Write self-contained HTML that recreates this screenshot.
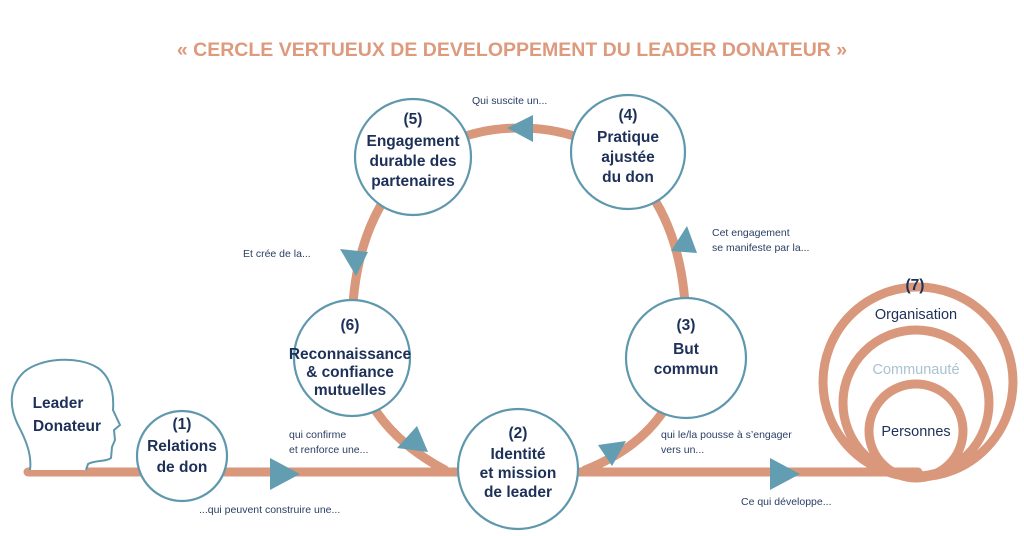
<!DOCTYPE html>
<html><head><meta charset="utf-8"><style>
html,body{margin:0;padding:0;background:#fff;}
svg{display:block;}
text{font-family:"Liberation Sans",sans-serif;}
.b{font-weight:bold;fill:#1d3057;text-anchor:middle;font-size:15.5px;}
.s{fill:#2a3e63;font-size:10.5px;}
</style></head><body>
<svg width="1024" height="536" viewBox="0 0 1024 536" xmlns="http://www.w3.org/2000/svg">
<rect width="1024" height="536" fill="#fff"/>
<text x="512" y="56" text-anchor="middle" font-size="19.5" font-weight="bold" fill="#dd9a7d">« CERCLE VERTUEUX DE DEVELOPPEMENT DU LEADER DONATEUR »</text>
<g fill="none" stroke="#d9977b" stroke-width="9" stroke-linecap="round">
<line x1="28" y1="472" x2="918" y2="472"/>
<path d="M445 470 Q352 420 352 330 C352 200 420 128 520 128 C620 128 686 200 686 330 Q686 430 585 470"/>
<circle cx="918" cy="382" r="95"/>
<circle cx="916" cy="403" r="73"/>
<circle cx="916" cy="431" r="47"/>
</g>
<!-- head -->
<path d="M30 470 C32 455 26 440 18 425 C8 405 10 385 24 372 C40 358 78 355 98 368 C112 378 114 395 113 410 L120 425 L114 430 L115 440 L112 447 L111 458 C106 462 95 460 88 464 L86 470" fill="#fff" stroke="#5f98ad" stroke-width="2"/>
<text class="b" x="58" y="408" font-size="17.5" text-anchor="middle">Leader</text>
<text class="b" x="67" y="431" font-size="17.5" text-anchor="middle">Donateur</text>
<g fill="#fff" stroke="#5f98ad" stroke-width="2.2">
<circle cx="182" cy="456" r="45"/>
<circle cx="518" cy="469" r="60"/>
<circle cx="686" cy="358" r="60"/>
<circle cx="628" cy="152" r="57"/>
<circle cx="413" cy="157" r="58"/>
<circle cx="352" cy="358" r="58"/>
</g>
<g fill="#639db2">
<polygon points="270,458 270,490 300,474"/>
<polygon points="770,458 770,490 800,474"/>
<polygon points="507,128 533,115 533,142"/>
<polygon points="671,251 687,226 697,253"/>
<polygon points="340,249 368,252 356,276"/>
<polygon points="397,448 417,426 428,452"/>
<polygon points="598,445 626,441 612,466"/>
</g>
<text class="b" x="182" y="429">(1)</text>
<text class="b" x="182" y="451">Relations</text>
<text class="b" x="182" y="472">de don</text>
<text class="b" x="518" y="438">(2)</text>
<text class="b" x="518" y="459">Identité</text>
<text class="b" x="518" y="478">et mission</text>
<text class="b" x="518" y="497">de leader</text>
<text class="b" x="686" y="330">(3)</text>
<text class="b" x="686" y="354">But</text>
<text class="b" x="686" y="374">commun</text>
<text class="b" x="628" y="120">(4)</text>
<text class="b" x="628" y="142">Pratique</text>
<text class="b" x="628" y="162">ajustée</text>
<text class="b" x="628" y="182">du don</text>
<text class="b" x="413" y="124">(5)</text>
<text class="b" x="413" y="146">Engagement</text>
<text class="b" x="413" y="166">durable des</text>
<text class="b" x="413" y="186">partenaires</text>
<text class="b" x="350" y="330">(6)</text>
<text class="b" x="350" y="359" font-size="14">Reconnaissance</text>
<text class="b" x="350" y="377" font-size="14">&amp; confiance</text>
<text class="b" x="350" y="395" font-size="14">mutuelles</text>
<text class="b" x="915" y="290">(7)</text>
<text x="916" y="319" text-anchor="middle" font-size="14.5" fill="#1d3057">Organisation</text>
<text x="916" y="374" text-anchor="middle" font-size="14.5" fill="#a9c3cf">Communauté</text>
<text x="916" y="436" text-anchor="middle" font-size="14.5" fill="#1d3057">Personnes</text>
<text class="s" x="199" y="513">...qui peuvent construire une...</text>
<text class="s" x="289" y="438">qui confirme</text>
<text class="s" x="289" y="453">et renforce une...</text>
<text class="s" x="243" y="257">Et crée de la...</text>
<text class="s" x="472" y="104">Qui suscite un...</text>
<text class="s" x="712" y="236">Cet engagement</text>
<text class="s" x="712" y="251">se manifeste par la...</text>
<text class="s" x="661" y="438">qui le/la pousse à s’engager</text>
<text class="s" x="661" y="453">vers un...</text>
<text class="s" x="741" y="505">Ce qui développe...</text>
</svg>
</body></html>
